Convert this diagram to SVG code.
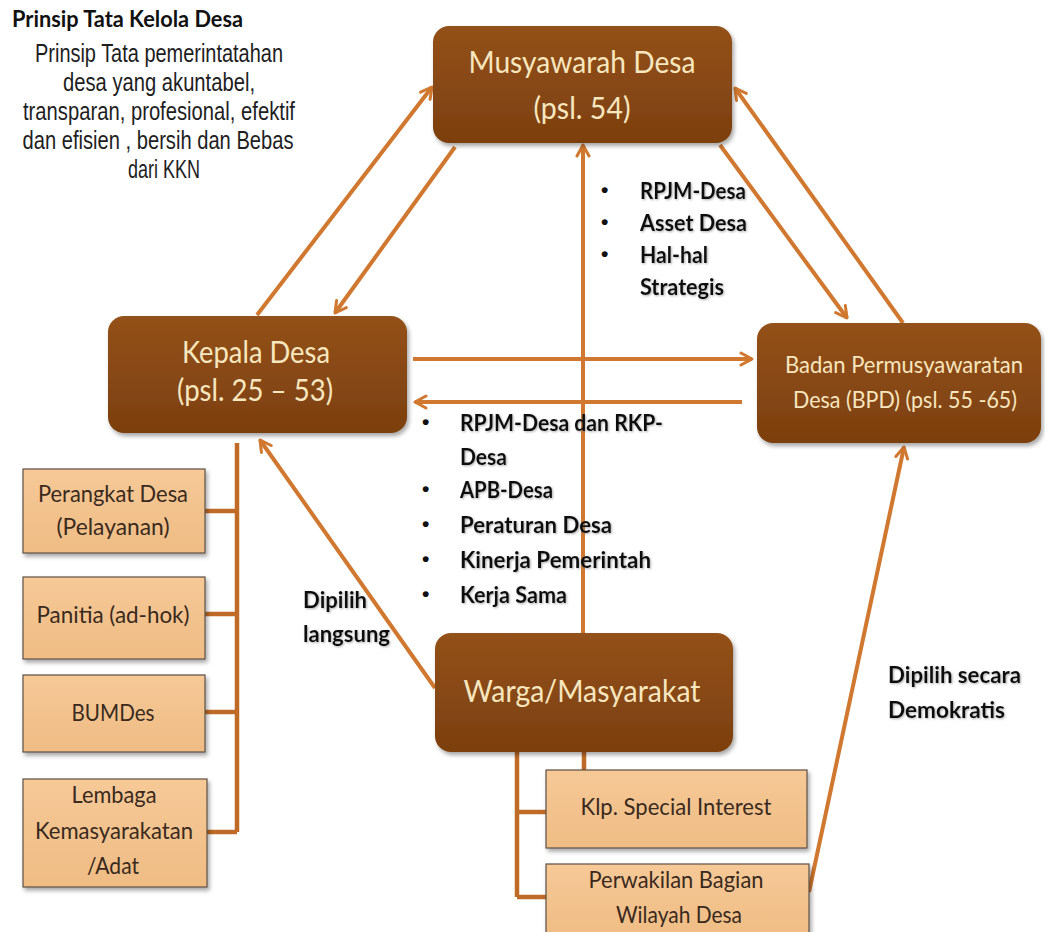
<svg xmlns="http://www.w3.org/2000/svg" width="1045" height="932" viewBox="0 0 1045 932">
<defs>
  <linearGradient id="gBrown" x1="0" y1="0" x2="0" y2="1">
    <stop offset="0" stop-color="#93511A"/>
    <stop offset="1" stop-color="#7C3F0F"/>
  </linearGradient>
  <linearGradient id="gPeach" x1="0" y1="0" x2="0" y2="1">
    <stop offset="0" stop-color="#F6C997"/>
    <stop offset="1" stop-color="#EFBC84"/>
  </linearGradient>
  <filter id="shadow" x="-10%" y="-10%" width="125%" height="130%">
    <feDropShadow dx="2" dy="3" stdDeviation="2" flood-color="#000" flood-opacity="0.35"/>
  </filter>
  <filter id="tshadow" x="-5%" y="-20%" width="115%" height="150%">
    <feDropShadow dx="1" dy="1" stdDeviation="0.8" flood-color="#777" flood-opacity="0.6"/>
  </filter>
  <marker id="arr" markerUnits="userSpaceOnUse" markerWidth="16" markerHeight="16" viewBox="0 0 16 16" refX="14" refY="8" orient="auto">
    <path d="M3,2 L14,8 L3,14" fill="none" stroke="#D0782F" stroke-width="3" stroke-linecap="round" stroke-linejoin="round"/>
  </marker>
</defs>
<style>
  .node { fill: url(#gBrown); filter: url(#shadow); }
  .sub { fill: url(#gPeach); stroke: #5E5045; stroke-width: 1.2; filter: url(#shadow); }
  .nt { font-family: Lato, "Open Sans", sans-serif; fill: #F7E6BE; text-anchor: middle; }
  .big { font-size: 30px; }
  .mid { font-size: 23px; }
  .st { font-family: Lato, "Open Sans", sans-serif; font-size: 23px; fill: #3A2A1E; text-anchor: middle; }
  .bold { font-family: Lato, "Open Sans", sans-serif; font-size: 23px; font-weight: bold; fill: #111; filter: url(#tshadow); }
  .bul { font-family: "Liberation Sans", Arial, sans-serif; font-size: 21px; font-weight: bold; fill: #111; }
  .para { font-family: "Liberation Sans", Arial, sans-serif; font-size: 26px; fill: #1E1E1E; text-anchor: middle; }
  .arrow { stroke: #D0782F; stroke-width: 4; fill: none; marker-end: url(#arr); }
  .tree { stroke: #BF6B27; stroke-width: 4.5; fill: none; }
</style>
<rect width="1045" height="932" fill="#FFFFFF"/>

<g id="principles">
  <text class="bold" x="12" y="27" textLength="231" lengthAdjust="spacingAndGlyphs" style="filter:none">Prinsip Tata Kelola Desa</text>
  <text class="para" x="159" y="62" textLength="248" lengthAdjust="spacingAndGlyphs">Prinsip Tata pemerintatahan</text>
  <text class="para" x="159" y="91" textLength="192" lengthAdjust="spacingAndGlyphs">desa yang akuntabel,</text>
  <text class="para" x="159" y="120" textLength="272" lengthAdjust="spacingAndGlyphs">transparan, profesional, efektif</text>
  <text class="para" x="158" y="149" textLength="271" lengthAdjust="spacingAndGlyphs">dan efisien , bersih dan Bebas</text>
  <text class="para" x="164" y="178" textLength="72" lengthAdjust="spacingAndGlyphs">dari KKN</text>
</g>

<g id="connectors">
  <line class="arrow" x1="257" y1="315" x2="432" y2="87"/>
  <line class="arrow" x1="455" y1="147" x2="335" y2="313"/>
  <line class="arrow" x1="720" y1="145" x2="847" y2="318"/>
  <line class="arrow" x1="903" y1="323" x2="735" y2="88"/>
  <line class="arrow" x1="413" y1="359" x2="752" y2="359"/>
  <line class="arrow" x1="742" y1="402" x2="415" y2="402"/>
  <line class="arrow" x1="583" y1="633" x2="583" y2="145"/>
  <line class="arrow" x1="435" y1="688" x2="260" y2="440"/>
  <line class="arrow" x1="809" y1="892" x2="904" y2="447"/>
  <path class="tree" d="M237,443 V832 M205,511 H237 M205,614 H237 M205,712 H237 M207,832 H237"/>
  <path class="tree" d="M517,752 V897 M517,812 H546 M517,897 H546 M584,752 V770"/>
</g>

<g id="n-musyawarah">
  <rect class="node" x="433" y="26" width="299" height="117" rx="16"/>
  <text class="nt big" x="582" y="73" textLength="227" lengthAdjust="spacingAndGlyphs">Musyawarah Desa</text>
  <text class="nt big" x="582" y="119" textLength="97" lengthAdjust="spacingAndGlyphs">(psl. 54)</text>
</g>

<g id="n-kepala">
  <rect class="node" x="108" y="316" width="299" height="117" rx="16"/>
  <text class="nt big" x="256" y="363" textLength="148" lengthAdjust="spacingAndGlyphs">Kepala Desa</text>
  <text class="nt big" x="255" y="401" textLength="156" lengthAdjust="spacingAndGlyphs">(psl. 25 – 53)</text>
</g>

<g id="n-bpd">
  <rect class="node" x="757" y="323" width="284" height="120" rx="16"/>
  <text class="nt mid" x="904" y="373" textLength="238" lengthAdjust="spacingAndGlyphs">Badan Permusyawaratan</text>
  <text class="nt mid" x="905" y="408" textLength="224" lengthAdjust="spacingAndGlyphs">Desa (BPD) (psl. 55 -65)</text>
</g>

<g id="n-warga">
  <rect class="node" x="435" y="633" width="298" height="119" rx="16"/>
  <text class="nt big" x="582" y="702" textLength="237" lengthAdjust="spacingAndGlyphs">Warga/Masyarakat</text>
</g>

<g id="n-perangkat">
  <rect class="sub" x="23" y="469" width="182" height="84"/>
  <text class="st" x="113" y="502" textLength="150" lengthAdjust="spacingAndGlyphs">Perangkat Desa</text>
  <text class="st" x="113" y="535" textLength="113" lengthAdjust="spacingAndGlyphs">(Pelayanan)</text>
</g>

<g id="n-panitia">
  <rect class="sub" x="23" y="577" width="182" height="82"/>
  <text class="st" x="113" y="623" textLength="153" lengthAdjust="spacingAndGlyphs">Panitia (ad-hok)</text>
</g>

<g id="n-bumdes">
  <rect class="sub" x="23" y="675" width="182" height="77"/>
  <text class="st" x="113" y="721" textLength="83" lengthAdjust="spacingAndGlyphs">BUMDes</text>
</g>

<g id="n-lembaga">
  <rect class="sub" x="23" y="779" width="184" height="108"/>
  <text class="st" x="114" y="803" textLength="85" lengthAdjust="spacingAndGlyphs">Lembaga</text>
  <text class="st" x="114" y="839" textLength="158" lengthAdjust="spacingAndGlyphs">Kemasyarakatan</text>
  <text class="st" x="113" y="874" textLength="52" lengthAdjust="spacingAndGlyphs">/Adat</text>
</g>

<g id="n-klp">
  <rect class="sub" x="546" y="770" width="261" height="78"/>
  <text class="st" x="676" y="815" textLength="191" lengthAdjust="spacingAndGlyphs">Klp. Special Interest</text>
</g>

<g id="n-perwakilan">
  <rect class="sub" x="546" y="864" width="263" height="74"/>
  <text class="st" x="676" y="888" textLength="175" lengthAdjust="spacingAndGlyphs">Perwakilan Bagian</text>
  <text class="st" x="679" y="923" textLength="126" lengthAdjust="spacingAndGlyphs">Wilayah Desa</text>
</g>

<g id="label-musyawarah-topics">
  <text class="bul" x="601" y="197">•</text>
  <text class="bold" x="640" y="199" textLength="106" lengthAdjust="spacingAndGlyphs">RPJM-Desa</text>
  <text class="bul" x="601" y="229">•</text>
  <text class="bold" x="640" y="231" textLength="107" lengthAdjust="spacingAndGlyphs">Asset Desa</text>
  <text class="bul" x="601" y="261">•</text>
  <text class="bold" x="640" y="263" textLength="68" lengthAdjust="spacingAndGlyphs">Hal-hal</text>
  <text class="bold" x="640" y="295" textLength="84" lengthAdjust="spacingAndGlyphs">Strategis</text>
</g>

<g id="label-bpd-topics">
  <text class="bul" x="422" y="429">•</text>
  <text class="bold" x="460" y="431" textLength="203" lengthAdjust="spacingAndGlyphs">RPJM-Desa dan RKP-</text>
  <text class="bold" x="460" y="465" textLength="47" lengthAdjust="spacingAndGlyphs">Desa</text>
  <text class="bul" x="422" y="496">•</text>
  <text class="bold" x="460" y="498" textLength="93" lengthAdjust="spacingAndGlyphs">APB-Desa</text>
  <text class="bul" x="422" y="531">•</text>
  <text class="bold" x="460" y="533" textLength="152" lengthAdjust="spacingAndGlyphs">Peraturan Desa</text>
  <text class="bul" x="422" y="566">•</text>
  <text class="bold" x="460" y="568" textLength="191" lengthAdjust="spacingAndGlyphs">Kinerja Pemerintah</text>
  <text class="bul" x="422" y="601">•</text>
  <text class="bold" x="460" y="603" textLength="107" lengthAdjust="spacingAndGlyphs">Kerja Sama</text>
</g>

<g id="label-langsung">
  <text class="bold" x="303" y="608" textLength="64" lengthAdjust="spacingAndGlyphs">Dipilih</text>
  <text class="bold" x="303" y="642" textLength="87" lengthAdjust="spacingAndGlyphs">langsung</text>
</g>

<g id="label-demokratis">
  <text class="bold" x="888" y="683" textLength="133" lengthAdjust="spacingAndGlyphs">Dipilih secara</text>
  <text class="bold" x="888" y="718" textLength="117" lengthAdjust="spacingAndGlyphs">Demokratis</text>
</g>
</svg>
